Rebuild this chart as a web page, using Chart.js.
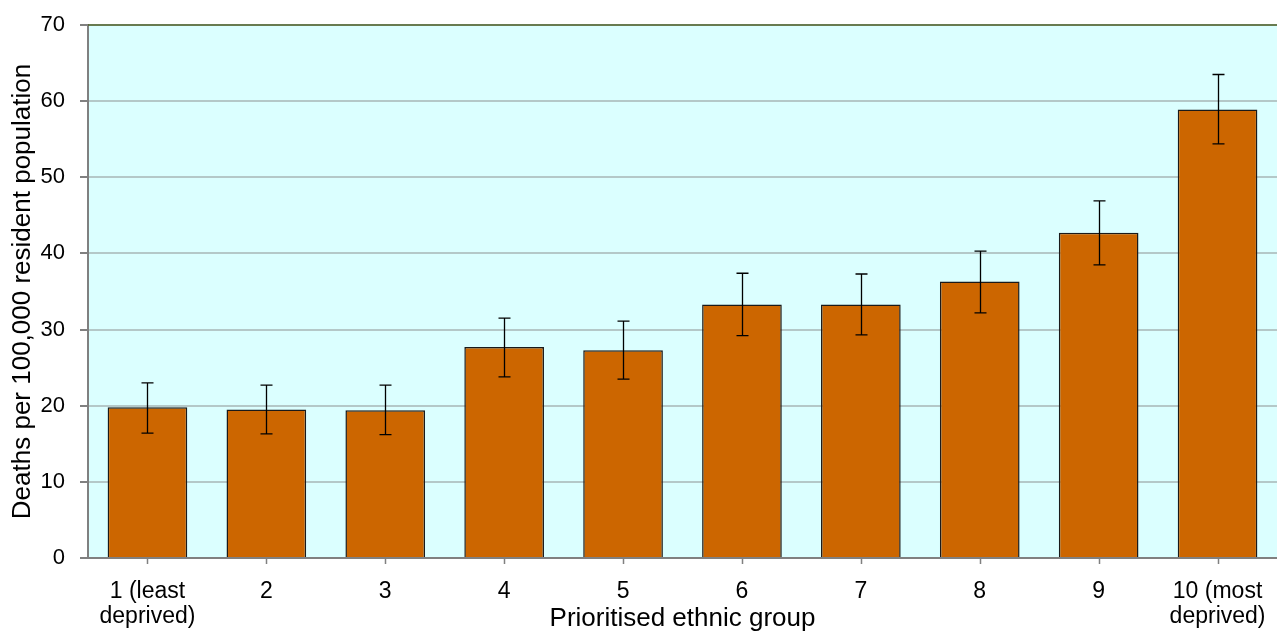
<!DOCTYPE html>
<html>
<head>
<meta charset="utf-8">
<script src="https://cdn.jsdelivr.net/npm/chart.js@4"></script>
<style>
  html, body { margin: 0; padding: 0; background: #fff; }
  #wrap { width: 1277px; height: 632px; }
</style>
</head>
<body>
<div id="wrap"><canvas id="deathChart" width="1277" height="632"></canvas></div>
<script>
const categories = [["1 (least", "deprived)"], "2", "3", "4", "5", "6", "7", "8", "9", ["10 (most", "deprived)"]];
const rates = [19.8, 19.5, 19.4, 27.7, 27.3, 33.3, 33.3, 36.3, 42.7, 58.9];
const lowerCI = [16.4, 16.3, 16.2, 23.8, 23.5, 29.2, 29.3, 32.2, 38.5, 54.4];
const upperCI = [23.0, 22.7, 22.7, 31.5, 31.1, 37.4, 37.3, 40.3, 46.9, 63.5];

// light cyan plot background, dark green top edge, short x tick marks
const plotBackground = {
  id: "plotBackground",
  beforeDraw(chart) {
    const { ctx, chartArea: a } = chart;
    ctx.save();
    ctx.fillStyle = "#DBFFFF";
    ctx.fillRect(a.left, a.top, a.right - a.left, a.bottom - a.top);
    ctx.restore();
  },
  afterDraw(chart) {
    const { ctx, chartArea: a } = chart;
    const xs = chart.scales.x;
    ctx.save();
    ctx.strokeStyle = "#4F6228";
    ctx.lineWidth = 1.5;
    ctx.beginPath();
    ctx.moveTo(a.left, a.top);
    ctx.lineTo(a.right, a.top);
    ctx.stroke();
    ctx.strokeStyle = "#808080";
    ctx.lineWidth = 1.5;
    ctx.beginPath();
    xs.ticks.forEach((t, i) => {
      const px = Math.round(xs.getPixelForTick(i)) + 0.5;
      ctx.moveTo(px, a.bottom);
      ctx.lineTo(px, a.bottom + 6);
    });
    ctx.stroke();
    ctx.restore();
  }
};

// confidence interval whiskers
const errorBars = {
  id: "errorBars",
  afterDatasetsDraw(chart) {
    const { ctx } = chart;
    const y = chart.scales.y;
    const meta = chart.getDatasetMeta(0);
    ctx.save();
    ctx.strokeStyle = "#000";
    ctx.lineWidth = 1.3;
    meta.data.forEach((bar, i) => {
      const x = Math.round(bar.x) + 0.5;
      const yl = y.getPixelForValue(lowerCI[i]);
      const yh = y.getPixelForValue(upperCI[i]);
      ctx.beginPath();
      ctx.moveTo(x, yl);
      ctx.lineTo(x, yh);
      ctx.moveTo(x - 6, yl);
      ctx.lineTo(x + 6, yl);
      ctx.moveTo(x - 6, yh);
      ctx.lineTo(x + 6, yh);
      ctx.stroke();
    });
    ctx.restore();
  }
};

const fam = "'Liberation Sans', Arial, sans-serif";

new Chart(document.getElementById("deathChart").getContext("2d"), {
  type: "bar",
  data: {
    labels: categories,
    datasets: [{
      data: rates,
      backgroundColor: "#CC6600",
      borderColor: "#1a1a1a",
      borderWidth: 1.5,
      categoryPercentage: 1,
      barPercentage: 0.67
    }]
  },
  options: {
    responsive: false,
    animation: false,
    layout: { padding: { top: 25, right: 0, left: 0, bottom: 0 } },
    plugins: {
      legend: { display: false },
      tooltip: { enabled: false }
    },
    scales: {
      x: {
        afterFit: (scale) => { scale.height = 74; },
        grid: { drawOnChartArea: false, offset: false, color: "transparent", tickLength: 10 },
        border: { color: "#808080", width: 2 },
        ticks: { color: "#000", font: { family: fam, size: 23, lineHeight: 1.08 }, maxRotation: 0, padding: 11 },
        title: { display: true, text: "Prioritised ethnic group", color: "#000", font: { family: fam, size: 26 }, padding: { top: 0, bottom: -2 } }
      },
      y: {
        min: 0,
        max: 70,
        afterFit: (scale) => { scale.width = 88; },
        ticks: { stepSize: 10, color: "#000", font: { family: fam, size: 22, lineHeight: 0.9 }, padding: 15 },
        grid: { color: "#B4C8C8", lineWidth: 2, tickLength: 8, tickColor: "#808080" },
        border: { color: "#808080", width: 2 },
        title: { display: true, text: "Deaths per 100,000 resident population", color: "#000", font: { family: fam, size: 26 }, padding: { top: 7, bottom: 2 } }
      }
    }
  },
  plugins: [plotBackground, errorBars]
});
</script>
</body>
</html>
